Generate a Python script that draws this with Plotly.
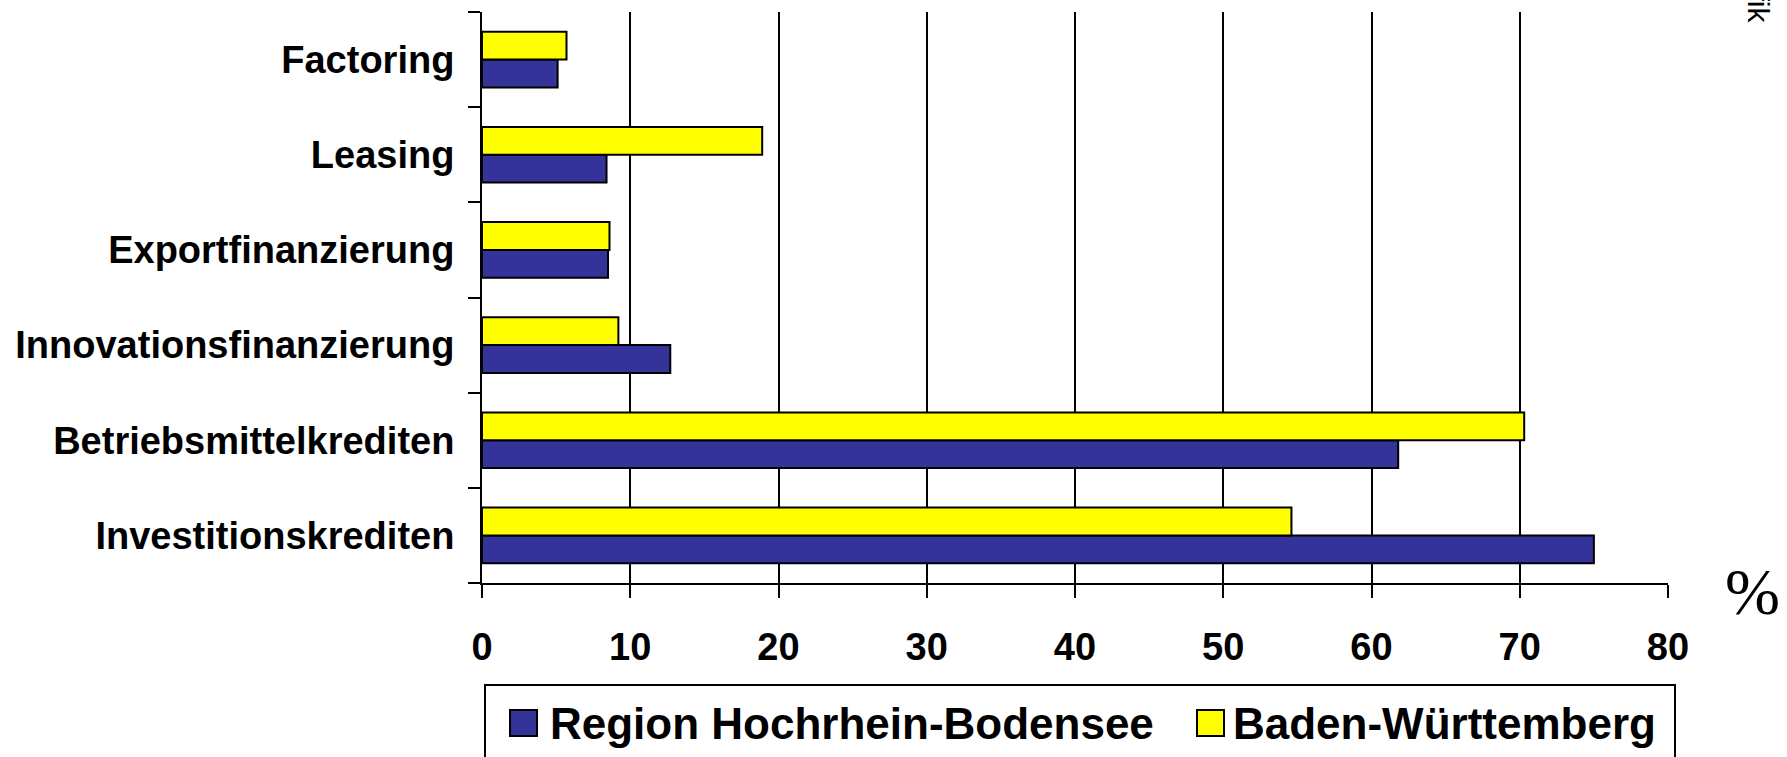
import plotly.graph_objects as go

# ---- data ----
categories = ["Investitionskrediten", "Betriebsmittelkrediten", "Innovationsfinanzierung",
              "Exportfinanzierung", "Leasing", "Factoring"]
region_hb = [75.0, 61.8, 12.7, 8.5, 8.4, 5.1]
baden_wue = [54.6, 70.3, 9.2, 8.6, 18.9, 5.7]
series_names = ["Region Hochrhein-Bodensee", "Baden-Württemberg"]
x_ticks = [0, 10, 20, 30, 40, 50, 60, 70, 80]

# ---- layout geometry (pixels) ----
W, H = 1787, 757
L, R, T, B = 482, 1668, 12, 583

def xp(px):
    return (px - L) / (R - L)

def yp(py):
    return (B - py) / (B - T)

SANS = "Liberation Sans, Arial, sans-serif"
SERIF = "Liberation Serif, Times New Roman, serif"
BLUE = "#333399"
YELLOW = "#FFFF00"

fig = go.Figure()
fig.add_trace(go.Bar(y=categories, x=region_hb, orientation="h", name=series_names[0],
                     marker=dict(color=BLUE, line=dict(color="black", width=2))))
fig.add_trace(go.Bar(y=categories, x=baden_wue, orientation="h", name=series_names[1],
                     marker=dict(color=YELLOW, line=dict(color="black", width=2))))

fig.update_layout(
    width=W, height=H,
    margin=dict(l=L, r=W - R, t=T, b=H - B, pad=0),
    plot_bgcolor="white", paper_bgcolor="white",
    barmode="group", bargap=0.415, bargroupgap=0,
    showlegend=False,
    font=dict(family=SANS, color="black"),
)
fig.update_xaxes(
    range=[0, 80], tickvals=x_ticks, ticktext=[str(v) for v in x_ticks],
    showgrid=True, gridcolor="black", gridwidth=1.5, zeroline=False,
    showline=True, linecolor="black", linewidth=2,
    ticks="outside", ticklen=13, tickwidth=2, tickcolor="black",
    tickfont=dict(family=SANS, size=38, weight="bold", color="black"),
    ticklabelstandoff=16,
)
fig.update_yaxes(
    type="category", categoryorder="array", categoryarray=categories,
    tickson="boundaries", ticks="outside", ticklen=12, tickwidth=2, tickcolor="black",
    showline=True, linecolor="black", linewidth=2, showgrid=False,
    tickfont=dict(family=SANS, size=38, weight="bold", color="black"),
    ticklabelstandoff=18,
)

shapes = [
    dict(type="rect", xref="paper", yref="paper", x0=xp(485), x1=xp(1675), y0=yp(685), y1=yp(800),
         line=dict(color="black", width=2), fillcolor="rgba(0,0,0,0)"),
    dict(type="rect", xref="paper", yref="paper", x0=xp(510), x1=xp(537), y0=yp(710), y1=yp(736),
         line=dict(color="black", width=2), fillcolor=BLUE),
    dict(type="rect", xref="paper", yref="paper", x0=xp(1197), x1=xp(1224), y0=yp(710), y1=yp(736),
         line=dict(color="black", width=2), fillcolor=YELLOW),
]
annotations = [
    dict(text=series_names[0], xref="paper", yref="paper", x=xp(548), y=yp(723.5),
         xanchor="left", yanchor="middle", showarrow=False,
         font=dict(family=SANS, size=44, weight="bold", color="black")),
    dict(text=series_names[1], xref="paper", yref="paper", x=xp(1231), y=yp(723.5),
         xanchor="left", yanchor="middle", showarrow=False,
         font=dict(family=SANS, size=44, weight="bold", color="black")),
    dict(text="%", xref="paper", yref="paper", x=xp(1752), y=yp(591),
         xanchor="center", yanchor="middle", showarrow=False,
         font=dict(family=SERIF, size=66, color="black")),
    dict(text="Grafik", xref="paper", yref="paper", x=xp(1758), y=yp(25),
         xanchor="center", yanchor="bottom", textangle=90, showarrow=False,
         font=dict(family=SANS, size=30, color="black")),
]
fig.update_layout(shapes=shapes, annotations=annotations)

fig.write_html("out.html", config={"displayModeBar": False},
               post_script="document.body.style.margin='0';document.body.style.overflow='hidden';")
